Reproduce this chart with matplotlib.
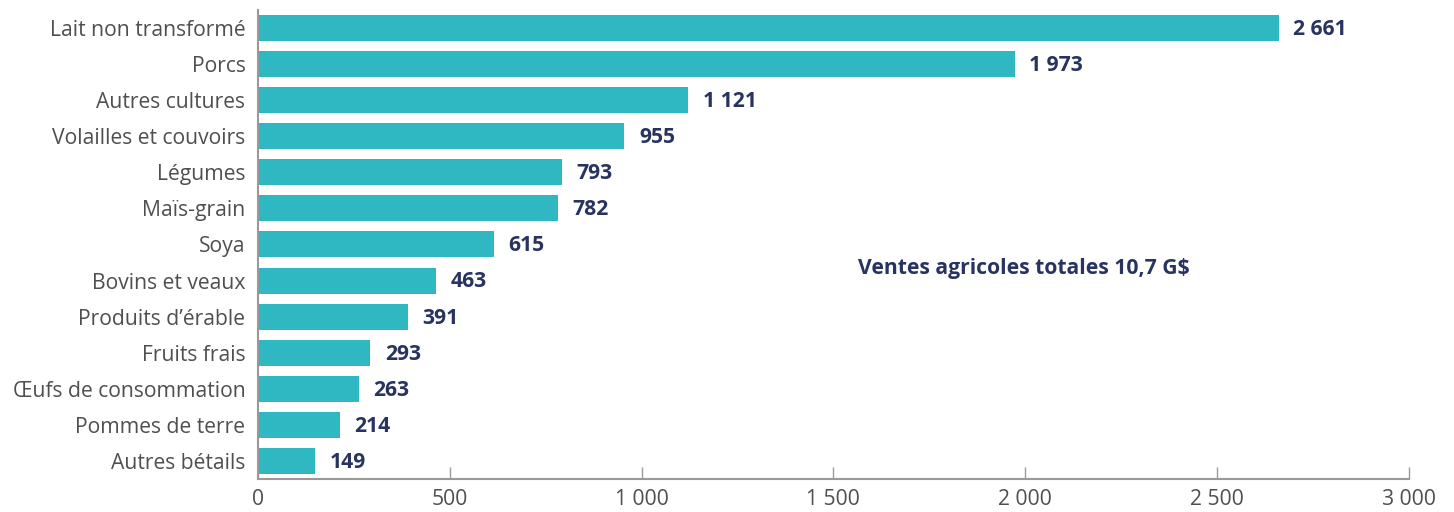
import matplotlib.pyplot as plt
from matplotlib.ticker import FuncFormatter

# Ventes agricoles par produit (M$)
categories = ['Lait non transformé', 'Porcs', 'Autres cultures',
              'Volailles et couvoirs', 'Légumes', 'Maïs-grain', 'Soya',
              'Bovins et veaux', 'Produits d\u2019érable', 'Fruits frais',
              '\u0152ufs de consommation', 'Pommes de terre', 'Autres bétails']
ventes = [2661, 1973, 1121, 955, 793, 782, 615, 463, 391, 293, 263, 214, 149]
total_label = 'Ventes agricoles totales 10,7 G$'

BAR = '#2fb8c2'
NAVY = '#283360'
GREY = '#4f4f4f'
FS = 15.2

plt.rcParams['font.family'] = ['Open Sans', 'DejaVu Sans']


def fr(v, pos=None):
    # separateur de milliers a la francaise
    return '{:,.0f}'.format(v).replace(',', ' ')


fig = plt.figure(figsize=(14.54, 5.12), dpi=100)
ax = fig.add_axes([0.1774, 0.0645, 0.7916, 0.916])

y = list(range(len(categories)))
ax.barh(y, ventes, height=0.72, color=BAR)

for i, v in enumerate(ventes):
    ax.annotate(fr(v), (v, i), xytext=(10.5, -1), textcoords='offset points',
                va='center', ha='left', fontsize=FS, fontweight='bold',
                color=NAVY)

ax.text(1564, 6.67, total_label, va='center', ha='left', fontsize=FS,
        fontweight='bold', color=NAVY)

ax.set_ylim(12.5, -0.5)
ax.set_xlim(0, 3000)
ax.set_yticks(y)
ax.set_yticklabels(categories, fontsize=FS, color=GREY)
ax.set_xticks(range(0, 3001, 500))
ax.xaxis.set_major_formatter(FuncFormatter(fr))
ax.tick_params(axis='x', direction='in', length=9, width=1, color='#999999',
               labelsize=FS, labelcolor=GREY, pad=7)
ax.tick_params(axis='y', length=0, pad=9)

for s in ['top', 'right']:
    ax.spines[s].set_visible(False)
for s in ['left', 'bottom']:
    ax.spines[s].set_color('#999999')
    ax.spines[s].set_linewidth(1.5)

fig.savefig('out.png', dpi=100)
